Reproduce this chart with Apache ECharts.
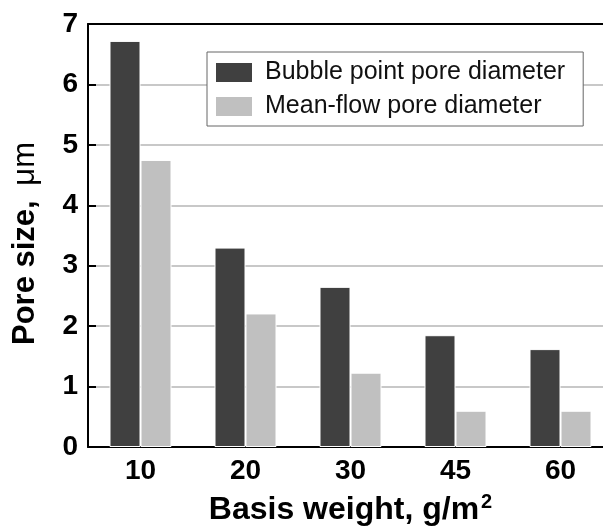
<!DOCTYPE html>
<html>
<head>
<meta charset="utf-8">
<script src="https://cdn.jsdelivr.net/npm/echarts@6/dist/echarts.min.js"></script>
<style>
  html, body { margin: 0; padding: 0; background: #fff; }
  #chart { width: 603px; height: 527px; }
</style>
</head>
<body>
<div id="chart"></div>
<script>
/* basis weight categories (g/m2) */
var categories = ["10", "20", "30", "45", "60"];
/* pore sizes, um */
var bubblePoint = [6.72, 3.30, 2.65, 1.85, 1.62];
var meanFlow = [4.75, 2.21, 1.23, 0.60, 0.60];
var yTicks = [0, 1, 2, 3, 4, 5, 6, 7];

var FONT = "Arial, 'Liberation Sans', sans-serif";

var chart = echarts.init(document.getElementById("chart"));

chart.setOption({
    animation: false,
    grid: {
        left: 88, right: -10, top: 24, bottom: 80,
        containLabel: false,
        outerBoundsMode: "none"
    },
    legend: {
        orient: "vertical",
        left: 207, top: 52,
        icon: "rect",
        itemWidth: 38, itemHeight: 21, itemGap: 9,
        padding: [8, 18, 7, 7],
        backgroundColor: "#fff",
        borderColor: "#666", borderWidth: 1,
        textStyle: { fontFamily: FONT, fontSize: 25, color: "#111", padding: [0, 0, 0, 7] },
        data: ["Bubble point pore diameter", "Mean-flow pore diameter"]
    },
    xAxis: [{
        type: "category",
        data: categories,
        axisLine: { lineStyle: { color: "#000", width: 2 } },
        axisTick: { show: false },
        axisLabel: { fontFamily: FONT, fontSize: 28, fontWeight: "bold", color: "#000", margin: 10 },
        name: "Basis weight, g/m{sup|2}",
        nameLocation: "middle",
        nameGap: 45,
        nameTextStyle: {
            fontFamily: FONT, fontSize: 32, fontWeight: "bold", color: "#000",
            rich: { sup: { fontFamily: FONT, fontSize: 20, fontWeight: "bold", verticalAlign: "top", padding: [0, 0, 16, 2] } }
        }
    }, {
        /* top frame line */
        type: "category",
        position: "top",
        data: categories,
        axisLine: { show: true, lineStyle: { color: "#000", width: 2 } },
        axisTick: { show: false },
        axisLabel: { show: false },
        splitLine: { show: false }
    }],
    yAxis: {
        type: "value",
        min: yTicks[0], max: yTicks[yTicks.length - 1], interval: 1,
        axisLine: { show: true, lineStyle: { color: "#000", width: 2 } },
        axisTick: { show: true, inside: true, length: 8, lineStyle: { color: "#000", width: 2 } },
        axisLabel: { fontFamily: FONT, fontSize: 28, fontWeight: "bold", color: "#000", margin: 10 },
        splitLine: { show: true, lineStyle: { color: "#c8c8c8", width: 2 } },
        name: "Pore size, {mu|\u03bcm}",
        nameLocation: "middle",
        nameGap: 47,
        nameTextStyle: {
            fontFamily: FONT, fontSize: 31, fontWeight: "bold", color: "#000",
            padding: [0, 16, 0, 0],
            rich: { mu: { fontFamily: FONT, fontSize: 31, fontWeight: "normal", padding: [0, 0, 0, 6] } }
        }
    },
    series: [{
        name: "Bubble point pore diameter",
        type: "bar",
        data: bubblePoint,
        barWidth: 31,
        barGap: "0%",
        itemStyle: { color: "#404040", borderColor: "#fff", borderWidth: 1 }
    }, {
        name: "Mean-flow pore diameter",
        type: "bar",
        data: meanFlow,
        barWidth: 31,
        itemStyle: { color: "#c0c0c0", borderColor: "#fff", borderWidth: 1 }
    }]
});
</script>
</body>
</html>
